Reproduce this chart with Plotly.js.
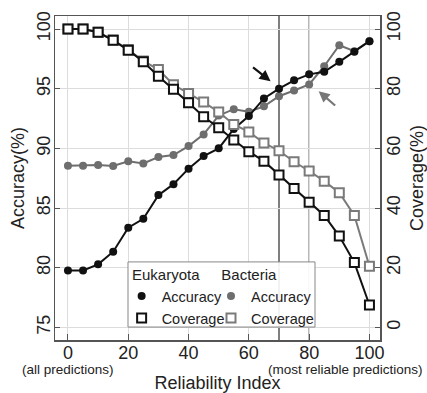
<!DOCTYPE html>
<html>
<head>
<meta charset="utf-8">
<script src="https://cdn.plot.ly/plotly-3.0.1.min.js"></script>
<style>html,body{margin:0;padding:0;background:#fff;}#chart{width:427px;height:393px;}</style>
</head>
<body>
<div id="chart"></div>
<script>
// Reliability index (x)
var reliabilityIndex = [0,5,10,15,20,25,30,35,40,45,50,55,60,65,70,75,80,85,90,95,100];
// Accuracy (%) - left axis
var eukAccuracy = [79.77,79.77,80.28,81.34,83.35,84.1,86.08,87.0,88.3,89.35,90.0,91.62,92.7,94.18,95.0,95.7,96.2,96.42,97.25,98.1,98.98];
var bacAccuracy = [88.54,88.54,88.6,88.52,88.91,88.74,89.27,89.44,90.19,91.17,92.75,93.28,93.07,93.52,94.37,94.85,95.35,96.88,98.64,98.14,98.98];
// Coverage (%) - right axis
var eukCoverage = [100,100,98.9,96.2,92.9,89.0,84.2,79.8,75.3,70.6,66.9,62.8,58.9,55.7,51.1,46.5,41.9,37.5,30.6,21.7,7.5];
var bacCoverage = [100,100,98.9,96.3,93.1,89.3,86.4,81.3,78.4,75.5,72.2,68.0,65.5,61.8,59.2,55.5,52.4,49.0,45.1,37.5,20.5];
var leftTicks = [75,80,85,90,95,100];
var rightTicks = [0,20,40,60,80,100];
var xTicks = [0,20,40,60,80,100];

var BLACK = '#111111', GRAY = '#6e6e6e', GRAYSQ = '#7a7a7a';
var FONT = 'Liberation Sans, Arial, sans-serif';

function lineTrace(y, color, yaxis) {
  return {x: reliabilityIndex, y: y, yaxis: yaxis, mode: 'lines', type: 'scatter',
    line: {color: color, width: 2}, showlegend: false, hoverinfo: 'skip'};
}
function circTrace(y, color, name, legend) {
  return {x: reliabilityIndex, y: y, yaxis: 'y', mode: 'markers', type: 'scatter', name: name,
    legend: legend, legendrank: 1,
    marker: {symbol: 'circle', size: 8, color: color}};
}
function sqTrace(y, color, name, legend) {
  return {x: reliabilityIndex, y: y, yaxis: 'y2', mode: 'markers', type: 'scatter', name: name,
    legend: legend, legendrank: 2,
    marker: {symbol: 'square', size: 9, color: '#ffffff', line: {color: color, width: 2}}};
}

var data = [
  lineTrace(bacCoverage, GRAYSQ, 'y2'), sqTrace(bacCoverage, GRAYSQ, 'Coverage', 'legend2'),
  lineTrace(eukCoverage, BLACK, 'y2'), sqTrace(eukCoverage, BLACK, 'Coverage', 'legend'),
  lineTrace(bacAccuracy, GRAY, 'y'), circTrace(bacAccuracy, GRAY, 'Accuracy', 'legend2'),
  lineTrace(eukAccuracy, BLACK, 'y'), circTrace(eukAccuracy, BLACK, 'Accuracy', 'legend')
];

var yLo = 73.94, yHi = 101.09;
var layout = {
  width: 427, height: 393,
  margin: {l: 55, r: 47, t: 16, b: 53},
  paper_bgcolor: '#ffffff', plot_bgcolor: '#ffffff',
  font: {family: FONT, color: '#222', size: 15},
  xaxis: {
    range: [-4.3, 103.5], tickvals: xTicks, ticktext: xTicks.map(String),
    tickfont: {size: 18}, ticks: 'inside', ticklen: 6, tickcolor: '#555', ticklabelstandoff: -4,
    showgrid: true, gridcolor: '#dcdcdc', gridwidth: 1, zeroline: false,
    showline: true, linecolor: '#555', linewidth: 1.5, mirror: true,
    title: {text: 'Reliability Index', font: {size: 18}, standoff: 33}
  },
  yaxis: {
    range: [yLo, yHi], tickvals: leftTicks, ticktext: leftTicks.map(String),
    tickfont: {size: 18}, tickangle: -90, ticks: 'inside', ticklen: 5, tickcolor: '#555', ticklabelstandoff: -4,
    showgrid: true, gridcolor: '#dcdcdc', gridwidth: 1, zeroline: false,
    showline: true, linecolor: '#555', linewidth: 1.5,
    title: {text: 'Accuracy(%)', font: {size: 18}, standoff: 5}
  },
  yaxis2: {
    overlaying: 'y', side: 'right',
    range: [4 * (yLo - 75), 4 * (yHi - 75)], tickvals: rightTicks, ticktext: rightTicks.map(String),
    tickfont: {size: 18}, tickangle: -90, ticks: 'inside', ticklen: 5, tickcolor: '#555', ticklabelstandoff: -3,
    showgrid: false, zeroline: false,
    showline: true, linecolor: '#555', linewidth: 1.5,
    title: {text: 'Coverage(%)', font: {size: 18}, standoff: 9}
  },
  legend: {
    x: 0.205, y: 0.245, xanchor: 'left', yanchor: 'top', bgcolor: 'rgba(0,0,0,0)',
    borderwidth: 0, font: {size: 14.5}, tracegroupgap: 0, itemwidth: 30,
    title: {text: '\u00a0\u00a0Eukaryota', font: {size: 15}}
  },
  legend2: {
    x: 0.48, y: 0.245, xanchor: 'left', yanchor: 'top', bgcolor: 'rgba(0,0,0,0)',
    borderwidth: 0, font: {size: 14.5}, tracegroupgap: 0, itemwidth: 30,
    title: {text: '\u00a0\u00a0Bacteria', font: {size: 15}}
  },
  shapes: [
    {type: 'line', xref: 'x', yref: 'paper', x0: 70, x1: 70, y0: 0, y1: 1,
      line: {color: '#555', width: 1.5}, layer: 'between'},
    {type: 'line', xref: 'x', yref: 'paper', x0: 80, x1: 80, y0: 0, y1: 1,
      line: {color: '#888', width: 1.5}, layer: 'between'},
    {type: 'rect', xref: 'paper', yref: 'paper', x0: 0.2246, x1: 0.8, y0: 0.04, y1: 0.241,
      line: {color: '#888', width: 1}, fillcolor: 'rgba(255,255,255,0.9)', layer: 'above'}
  ],
  annotations: [
    {xref: 'x', yref: 'y', x: 67.2, y: 95.63, ax: -19, ay: -15, showarrow: true,
      arrowhead: 2, arrowsize: 1, arrowwidth: 2.2, arrowcolor: BLACK, text: ''},
    {xref: 'x', yref: 'y', x: 83.15, y: 94.79, ax: 18, ay: 15.6, showarrow: true,
      arrowhead: 2, arrowsize: 1, arrowwidth: 2.2, arrowcolor: '#777', text: ''},
    {xref: 'x', yref: 'paper', x: 0, y: -0.092, xanchor: 'center', yanchor: 'middle',
      showarrow: false, text: '(all predictions)', font: {size: 13.5, color: '#222'}},
    {xref: 'paper', yref: 'paper', x: 1.138, y: -0.092, xanchor: 'right', yanchor: 'middle',
      showarrow: false, text: '(most reliable predictions)', font: {size: 13.5, color: '#222'}}
  ]
};

Plotly.newPlot('chart', data, layout, {displayModeBar: false, staticPlot: true});
</script>
</body>
</html>
